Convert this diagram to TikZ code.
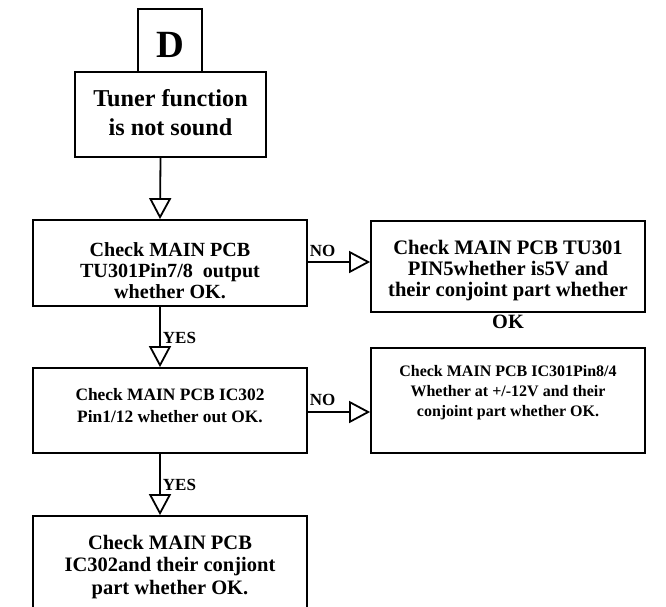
\documentclass[tikz,border=0pt]{standalone}
\usepackage{fontspec}
\setmainfont{Liberation Serif}
\usetikzlibrary{arrows.meta}
\newcommand\boxtxt[2]{\raisebox{#1}[\height][\depth]{\begin{tabular}{@{}c@{}}#2\end{tabular}}}
\begin{document}
\begin{tikzpicture}[x=1pt,y=-1pt, line width=1.8pt,
  box/.style={draw, rectangle, inner sep=0pt, align=center, minimum width=274pt},
  arr/.style={-{Triangle[open,length=21pt,width=22pt]}},
  lbl/.style={inner sep=0pt, font=\bfseries\fontsize{17}{17}\selectfont}]
\useasboundingbox (0,0) rectangle (666,606);
\clip (0,0) rectangle (666,606);
% boxes
\node[draw, rectangle, inner sep=0pt, minimum width=64pt, minimum height=63pt,
  font=\bfseries\fontsize{38.5}{40}\selectfont] (d) at (170,40.5) {\boxtxt{-8.5pt}{D}};
\node[draw, rectangle, inner sep=0pt, align=center, minimum width=191pt, minimum height=85pt,
  font=\bfseries\fontsize{24.2}{29}\selectfont] (tuner) at (170.5,114.5) {\boxtxt{-1pt}{Tuner function\\ is not sound}};
\node[box, minimum height=86pt, font=\bfseries\fontsize{20.1}{21}\selectfont] (b1) at (170,263)
  {\boxtxt{-10.5pt}{Check MAIN PCB\\ TU301Pin7/8\ \ output\\ whether OK.}};
\node[box, minimum height=91pt, font=\bfseries\fontsize{20.6}{21}\selectfont] (b2) at (508,266.5)
  {\boxtxt{-5pt}{Check MAIN PCB TU301\\ PIN5whether is5V and\\ their conjoint part whether}};
\node[inner sep=0pt, font=\bfseries\fontsize{20.3}{21}\selectfont] (ok) at (508,322) {OK};
\node[box, minimum height=85pt, font=\bfseries\fontsize{17.4}{22}\selectfont] (b3) at (170,410.5)
  {\boxtxt{3pt}{Check MAIN PCB IC302\\ Pin1/12 whether out OK.}};
\node[box, minimum height=105pt, font=\bfseries\fontsize{16}{20}\selectfont] (b4) at (508,400.5)
  {\boxtxt{8pt}{Check MAIN PCB IC301Pin8/4\\ Whether at +/-12V and their\\ conjoint part whether OK.}};
\node[box, minimum height=96pt, font=\bfseries\fontsize{20.5}{22.5}\selectfont] (b5) at (170,564)
  {\boxtxt{-3pt}{Check MAIN PCB\\ IC302and their conjiont\\ part whether OK.}};
% connectors
\draw[arr] ([xshift=-10pt]tuner.south) -- ([xshift=-10pt]b1.north);
\draw[arr] ([yshift=1pt]b1.east) -- ([yshift=1pt]b1.east -| b2.west);
\draw[arr] ([xshift=-10pt]b1.south) -- ([xshift=-10pt]b3.north);
\draw[arr] ([yshift=-1.5pt]b3.east) -- ([yshift=-1.5pt]b3.east -| b4.west);
\draw[arr] ([xshift=-10pt]b3.south) -- ([xshift=-10pt]b5.north);
% labels
\node[lbl, anchor=south west] (no1) at ([xshift=1pt,yshift=5pt]b1.east) {NO};
\node[lbl, anchor=south west] (no2) at ([xshift=1pt,yshift=4pt]b3.east) {NO};
\node[lbl, anchor=west] (yes1) at (162,338) {YES};
\node[lbl, anchor=west] (yes2) at (162,485) {YES};
\end{tikzpicture}
\end{document}
